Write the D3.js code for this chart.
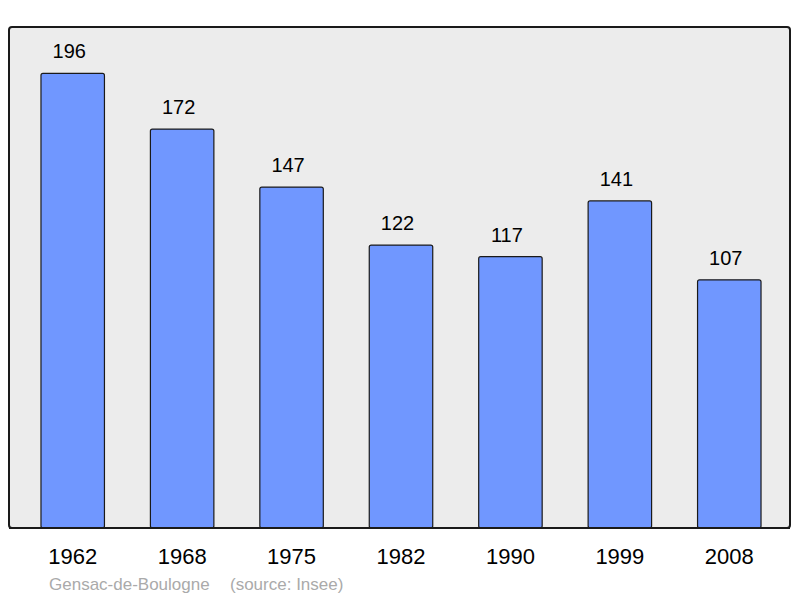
<!DOCTYPE html>
<html>
<head>
<meta charset="utf-8">
<script src="https://cdn.jsdelivr.net/npm/d3@7"></script>
<style>
  body { margin: 0; background: #fff; }
  svg { display: block; font-family: "Liberation Sans", Arial, sans-serif; }
</style>
</head>
<body>
<svg width="800" height="598"></svg>
<script>
// population data
const years = ['1962', '1968', '1975', '1982', '1990', '1999', '2008'];
const population = [196, 172, 147, 122, 117, 141, 107];
const place = 'Gensac-de-Boulogne';
const source = '(source: Insee)';

const data = years.map((y, i) => ({year: y, value: population[i]}));

const svg = d3.select('svg');

// panel
svg.append('rect')
    .attr('x', 9).attr('y', 27)
    .attr('width', 781).attr('height', 501)
    .attr('rx', 3)
    .attr('fill', '#ececec')
    .attr('stroke', '#1a1a1a')
    .attr('stroke-width', 2);

const x = d3.scaleBand()
    .domain(years)
    .range([18, 784])
    .paddingInner(0.42)
    .paddingOuter(0.21);

const y = d3.scaleLinear()
    .domain([0, 216])
    .range([528, 27]);

svg.selectAll('rect.bar')
    .data(data)
    .enter().append('rect')
    .attr('class', 'bar')
    .attr('x', d => x(d.year))
    .attr('y', d => y(d.value))
    .attr('width', x.bandwidth())
    .attr('height', d => y(0) - y(d.value))
    .attr('rx', 2)
    .attr('fill', '#7097ff')
    .attr('stroke', '#1a1a1a')
    .attr('stroke-width', 1.2);

// redraw panel border over bar bottoms
svg.append('line')
    .attr('x1', 9).attr('x2', 790)
    .attr('y1', 528).attr('y2', 528)
    .attr('stroke', '#1a1a1a')
    .attr('stroke-width', 2);

svg.selectAll('text.val')
    .data(data)
    .enter().append('text')
    .attr('class', 'val')
    .attr('x', d => x(d.year) + x.bandwidth() / 2 - 3.5)
    .attr('y', d => y(d.value) - 15)
    .attr('text-anchor', 'middle')
    .attr('font-size', 20)
    .attr('fill', '#000')
    .text(d => d.value);

// x axis labels
const xAxis = svg.append('g')
    .attr('transform', 'translate(0,528)')
    .call(d3.axisBottom(x).tickSize(0).tickPadding(20));
xAxis.select('.domain').remove();
xAxis.selectAll('text')
    .attr('font-size', 22)
    .attr('font-family', '"Liberation Sans", Arial, sans-serif')
    .attr('fill', '#000');

svg.append('text')
    .attr('x', 49).attr('y', 590)
    .attr('font-size', 17)
    .attr('fill', '#aaa')
    .text(place);

svg.append('text')
    .attr('x', 230).attr('y', 590)
    .attr('font-size', 17)
    .attr('fill', '#aaa')
    .text(source);
</script>
</body>
</html>
